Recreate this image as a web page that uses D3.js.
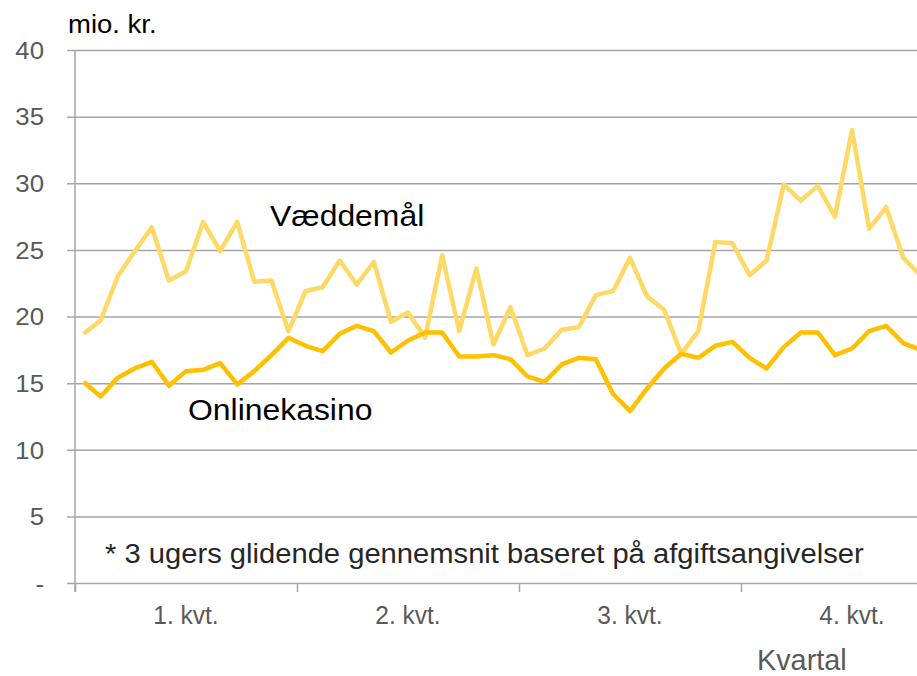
<!DOCTYPE html>
<html>
<head>
<meta charset="utf-8">
<script src="https://cdn.jsdelivr.net/npm/d3@7"></script>
<style>
  body { margin: 0; background: #fff; }
  svg { display: block; font-family: "Liberation Sans", Arial, sans-serif; }
</style>
</head>
<body>
<div id="chart"></div>
<script>
// ugentlige værdier (3 ugers glidende gennemsnit), mio. kr.
const vaeddemaal = [18.7, 19.7, 23.0, 24.9, 26.7, 22.7, 23.4, 27.1, 24.9, 27.1, 22.6, 22.7, 18.9,
                    21.9, 22.2, 24.2, 22.4, 24.1, 19.6, 20.3, 18.4, 24.6, 18.9, 23.6, 17.9, 20.7,
                    17.1, 17.6, 19.0, 19.2, 21.6, 21.9, 24.4, 21.5, 20.5, 17.2, 18.9, 25.6, 25.5,
                    23.1, 24.2, 29.9, 28.7, 29.8, 27.5, 34.0, 26.6, 28.2, 24.4, 23.1];
const onlinekasino = [15.1, 14.0, 15.4, 16.1, 16.6, 14.8, 15.9, 16.0, 16.5, 14.9, 15.9, 17.1, 18.4,
                      17.8, 17.4, 18.7, 19.3, 18.9, 17.3, 18.2, 18.8, 18.8, 17.0, 17.0, 17.1, 16.8,
                      15.5, 15.1, 16.4, 16.9, 16.8, 14.2, 12.9, 14.6, 16.1, 17.2, 16.9, 17.8, 18.1,
                      16.9, 16.1, 17.7, 18.8, 18.8, 17.1, 17.6, 18.9, 19.3, 18.0, 17.5];
const kvartaler = ["1. kvt.", "2. kvt.", "3. kvt.", "4. kvt."];
const yTicks = [0, 5, 10, 15, 20, 25, 30, 35, 40];
const ugerPrKvartal = 13;

const width = 917, height = 676;
const margin = { left: 75, top: 50, bottom: 93 };
const plotBottom = height - margin.bottom;
const quarterWidth = 222;

const svg = d3.select("#chart").append("svg")
    .attr("width", width)
    .attr("height", height);

// strækker teksten vandret, så den fylder som i originalen
function stretch(sel, factor) {
    sel.each(function () {
        const w = this.getComputedTextLength();
        d3.select(this)
            .attr("textLength", w * factor)
            .attr("lengthAdjust", "spacingAndGlyphs");
    });
}

const x = d3.scaleLinear()
    .domain([0, kvartaler.length * ugerPrKvartal])
    .range([margin.left, margin.left + quarterWidth * kvartaler.length]);

const y = d3.scaleLinear()
    .domain([0, 40])
    .range([plotBottom, margin.top]);

// gitterlinjer og y-akse
const yAxis = d3.axisLeft(y)
    .tickValues(yTicks)
    .tickSize(8)
    .tickPadding(23)
    .tickFormat(d => d === 0 ? "-" : d);

const gy = svg.append("g")
    .attr("transform", `translate(${margin.left},0)`)
    .call(yAxis);
gy.select(".domain").remove();
gy.selectAll(".tick line")
    .attr("x1", -8)
    .attr("x2", width - margin.left)
    .attr("stroke", "#a6a6a6")
    .attr("stroke-width", 1.5);
gy.selectAll(".tick text")
    .attr("fill", "#595959")
    .attr("font-family", null)
    .style("font-size", "23px")
    .attr("dy", "0.36em")
    .call(stretch, 1.12);

svg.append("line")
    .attr("x1", margin.left).attr("x2", margin.left)
    .attr("y1", margin.top).attr("y2", plotBottom + 9)
    .attr("stroke", "#a6a6a6")
    .attr("stroke-width", 1.5);

// x-akse med kvartaler
const gx = svg.append("g")
    .attr("transform", `translate(0,${plotBottom})`)
    .call(d3.axisBottom(x)
        .tickValues(d3.range(0, kvartaler.length * ugerPrKvartal + 1, ugerPrKvartal))
        .tickSize(9)
        .tickFormat(""));
gx.select(".domain").remove();
gx.selectAll(".tick line").attr("stroke", "#a6a6a6").attr("stroke-width", 1.5);

svg.append("g")
    .selectAll("text")
    .data(kvartaler)
    .join("text")
    .attr("x", (d, i) => x(i * ugerPrKvartal + ugerPrKvartal / 2))
    .attr("y", 624)
    .attr("text-anchor", "middle")
    .attr("fill", "#595959")
    .style("font-size", "25px")
    .text(d => d)
    .call(stretch, 0.98);

svg.append("text")
    .attr("x", 757)
    .attr("y", 670)
    .attr("fill", "#595959")
    .style("font-size", "30px")
    .text("Kvartal")
    .call(stretch, 0.96);

// linjer
const line = d3.line()
    .x((d, i) => x(i + 0.5))
    .y(d => y(d));

svg.append("clipPath").attr("id", "clip")
    .append("rect")
    .attr("x", margin.left).attr("y", 0)
    .attr("width", width - margin.left).attr("height", height);

const lines = svg.append("g").attr("clip-path", "url(#clip)");

lines.append("path")
    .datum(vaeddemaal)
    .attr("fill", "none")
    .attr("stroke", "#ffd966")
    .attr("stroke-width", 4.5)
    .attr("stroke-linejoin", "round")
    .attr("d", line);

lines.append("path")
    .datum(onlinekasino)
    .attr("fill", "none")
    .attr("stroke", "#ffc000")
    .attr("stroke-width", 4.5)
    .attr("stroke-linejoin", "round")
    .attr("d", line);

// tekster
svg.append("text")
    .attr("x", 68).attr("y", 33)
    .style("font-size", "25px")
    .text("mio. kr.")
    .call(stretch, 1.1);

svg.append("text")
    .attr("x", 270).attr("y", 226)
    .style("font-size", "29px")
    .text("Væddemål")
    .call(stretch, 1.1);

svg.append("text")
    .attr("x", 188).attr("y", 420)
    .style("font-size", "29px")
    .text("Onlinekasino")
    .call(stretch, 1.1);

svg.append("text")
    .attr("x", 105).attr("y", 563)
    .style("font-size", "27px")
    .attr("fill", "#262626")
    .text("* 3 ugers glidende gennemsnit baseret på afgiftsangivelser")
    .call(stretch, 1.08);
</script>
</body>
</html>
